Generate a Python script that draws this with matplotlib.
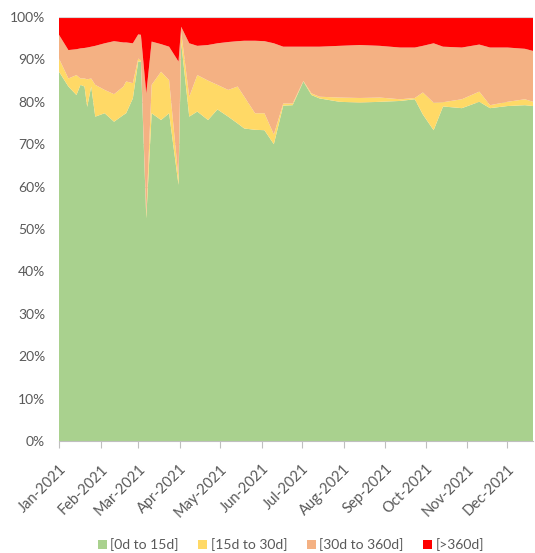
import matplotlib
matplotlib.use("Agg")
import matplotlib.pyplot as plt
import numpy as np
import pandas as pd

dates = ["2021-01-01", "2021-01-08", "2021-01-14", "2021-01-17", "2021-01-20", "2021-01-22",
         "2021-01-25", "2021-01-28", "2021-02-04", "2021-02-11", "2021-02-18", "2021-02-20",
         "2021-02-25", "2021-03-01", "2021-03-03", "2021-03-07", "2021-03-11", "2021-03-18",
         "2021-03-24", "2021-03-31", "2021-04-02", "2021-04-08", "2021-04-14", "2021-04-22",
         "2021-04-29", "2021-05-07", "2021-05-14", "2021-05-19", "2021-05-27", "2021-06-03",
         "2021-06-10", "2021-06-17", "2021-06-24", "2021-07-02", "2021-07-08", "2021-07-14",
         "2021-07-29", "2021-08-13", "2021-08-28", "2021-09-12", "2021-09-23", "2021-09-29",
         "2021-10-07", "2021-10-14", "2021-10-28", "2021-11-10", "2021-11-18", "2021-12-01",
         "2021-12-14", "2021-12-20"]

# shares in percent per bucket
d0_15 = [87.1, 83.6, 81.6, 84.0, 83.6, 78.8, 83.6, 76.5, 77.3, 75.3, 76.9, 77.3,
         80.8, 89.5, 89.5, 52.5, 77.3, 75.7, 77.3, 60.4, 94.0, 76.5, 77.7, 75.7,
         78.2, 76.5, 74.9, 73.7, 73.4, 73.3, 70.0, 79.1, 79.2, 84.8, 81.6, 80.8,
         80.0, 79.8, 80.0, 80.2, 80.6, 77.0, 73.3, 78.9, 78.5, 80.0, 78.5, 79.0,
         79.2, 79.0]
d15_30 = [3.1, 1.9, 4.7, 1.5, 1.9, 6.5, 1.9, 7.5, 5.5, 6.5, 6.7, 7.5,
          3.6, 0.7, 0.3, 1.0, 6.7, 11.4, 7.8, 1.6, 2.5, 4.7, 8.6, 9.3,
          5.8, 6.3, 8.7, 7.5, 3.9, 4.0, 2.3, 0.5, 0.4, 0.1, 0.4, 0.4,
          1.0, 1.1, 1.0, 0.4, 0.3, 5.2, 6.5, 1.0, 2.1, 2.4, 0.7, 1.0,
          1.4, 1.0]
d30_360 = [5.6, 6.7, 6.1, 7.1, 7.2, 7.5, 7.5, 9.2, 11.0, 12.5, 10.4, 9.2,
           9.4, 5.7, 6.0, 28.5, 10.2, 6.5, 7.9, 27.5, 1.2, 12.6, 6.9, 8.4,
           9.8, 11.3, 10.7, 13.2, 17.1, 17.0, 21.5, 13.4, 13.4, 8.1, 11.0, 11.8,
           12.2, 12.5, 12.2, 12.2, 11.9, 11.0, 14.0, 13.1, 12.2, 11.1, 13.6, 12.8,
           11.9, 12.0]
d360p = [4.2, 7.8, 7.6, 7.4, 7.3, 7.2, 7.0, 6.8, 6.2, 5.7, 6.0, 6.0,
         6.2, 4.1, 4.2, 18.0, 5.8, 6.4, 7.0, 10.5, 2.3, 6.2, 6.8, 6.6,
         6.2, 5.9, 5.7, 5.6, 5.6, 5.7, 6.2, 7.0, 7.0, 7.0, 7.0, 7.0,
         6.8, 6.6, 6.8, 7.2, 7.2, 6.8, 6.2, 7.0, 7.2, 6.5, 7.2, 7.2,
         7.5, 8.0]

labels = ["[0d to 15d]", "[15d to 30d]", "[30d to 360d]", "[>360d]"]
colors = ["#A9D18E", "#FFD966", "#F4B183", "#FF0000"]

plt.rcParams['font.family'] = ['Lato', 'DejaVu Sans']

x = pd.to_datetime(dates)
vals = np.array([d0_15, d15_30, d30_360, d360p])
vals = vals / vals.sum(axis=0) * 100

fig = plt.figure(figsize=(5.35, 5.53), dpi=100)
ax = fig.add_axes([59/535, 1-441/553, (533-59)/535, (441-17)/553])

for yv in range(10, 101, 10):
    ax.axhline(yv, color="#D9D9D9", lw=0.8, zorder=0)

ax.stackplot(x, vals, colors=colors, labels=labels, zorder=2, linewidth=0)
ax.axhline(100, color="#D9D9D9", lw=0.8, zorder=3)

ax.set_xlim(x[0], x[-1])
ax.set_ylim(0, 100)
ax.set_yticks(range(0, 101, 10))
ax.set_yticklabels([f"{v}%" for v in range(0, 101, 10)])

months = pd.date_range("2021-01-01", "2021-12-01", freq="MS")
ax.set_xticks(months)
ax.set_xticklabels([m.strftime("%b-%Y") for m in months], rotation=45, ha="right",
                   rotation_mode="anchor")

for s in ["top", "right", "left"]:
    ax.spines[s].set_visible(False)
ax.spines["bottom"].set_color("#BFBFBF")
ax.spines["bottom"].set_zorder(4)
ax.tick_params(axis="y", length=0, labelsize=10, labelcolor="#595959", pad=10)
ax.tick_params(axis="x", length=5, color="#BFBFBF", labelsize=10.5, labelcolor="#595959", pad=10)

handles, lbls = ax.get_legend_handles_labels()
fig.legend(handles, lbls, loc="center", bbox_to_anchor=(0.544, 1-545/553), ncol=4,
           frameon=False, fontsize=10, labelcolor="#595959", handlelength=0.65,
           handleheight=0.65, handletextpad=0.25, columnspacing=1.4)

fig.savefig("out.png", dpi=100)
